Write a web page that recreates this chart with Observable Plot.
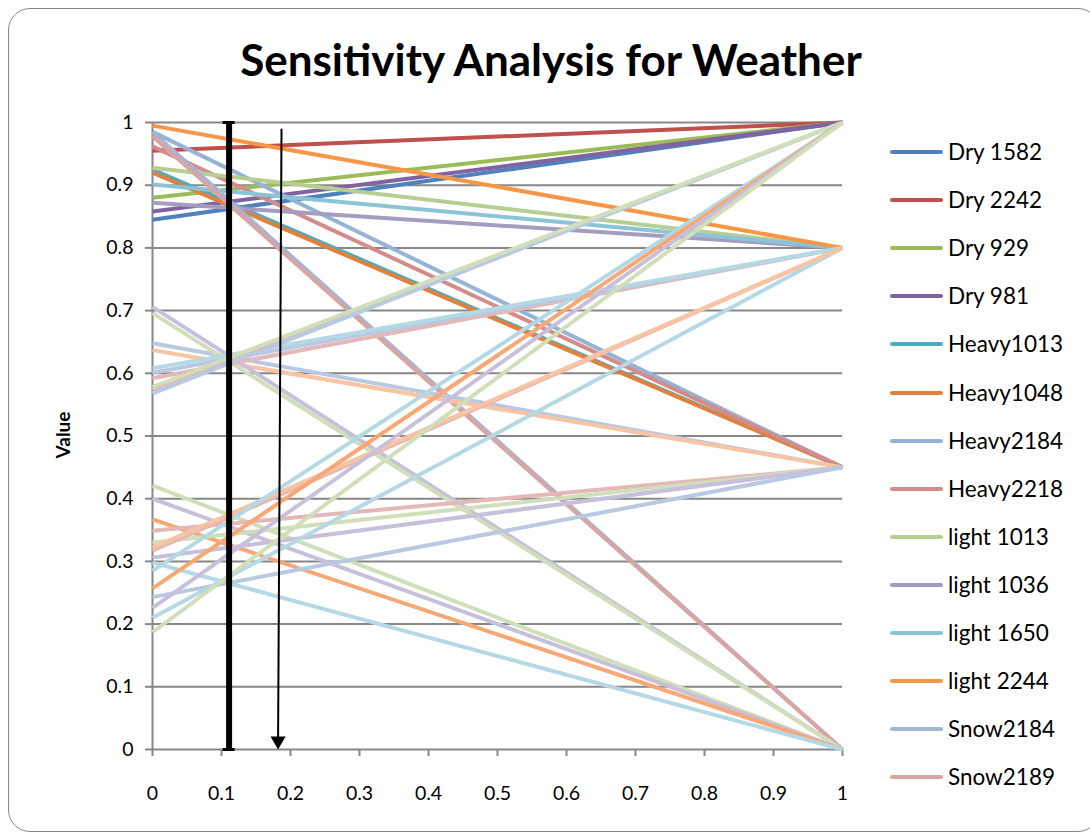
<!DOCTYPE html>
<html><head><meta charset="utf-8">
<script src="https://cdn.jsdelivr.net/npm/d3@7"></script>
<script src="https://cdn.jsdelivr.net/npm/@observablehq/plot@0.6"></script>
<style>
html,body{margin:0;padding:0;background:#fff;}
body{width:1090px;height:838px;position:relative;overflow:hidden;font-family:Lato,"Open Sans",sans-serif;color:#000;}
#frame{position:absolute;left:8px;top:8px;width:1092px;height:824px;border:1.5px solid #868686;border-radius:22px;box-sizing:border-box;}
#title{position:absolute;left:0;top:32px;width:1102px;text-align:center;font-weight:bold;font-size:44px;line-height:54px;}
#chart{position:absolute;left:0;top:100px;}
#ylabel{position:absolute;left:62px;top:435px;transform:translate(-50%,-50%) rotate(-90deg);font-weight:bold;font-size:19px;white-space:nowrap;}
#legend{position:absolute;left:890px;top:0;}
.item{position:absolute;left:0;height:30px;width:200px;}
.swatch{position:absolute;left:0;top:13px;width:53px;height:4px;border-radius:2px;}
.lab{position:absolute;left:58px;top:0;line-height:30px;font-size:22.5px;white-space:nowrap;}
</style></head>
<body>
<div id="frame"></div>
<div id="title">Sensitivity Analysis for Weather</div>
<div id="ylabel">Value</div>
<div id="chart"></div>
<div id="legend"></div>
<script>
// ---- data ----
const legendNames = ["Dry 1582","Dry 2242","Dry 929","Dry 981","Heavy1013","Heavy1048","Heavy2184","Heavy2218","light 1013","light 1036","light 1650","light 2244","Snow2184","Snow2189"];
const legendStart = [0.845,0.955,0.880,0.858,0.925,0.920,0.985,0.962,0.928,0.872,0.901,0.995,0.985,0.978];
const legendEnd   = [1,1,1,1,0.45,0.45,0.45,0.45,0.8,0.8,0.8,0.8,0,0];
// further series drawn in the chart but not listed in its legend
const extraNames = ["Series 15","Series 16","Series 17","Series 18","Series 19","Series 20","Series 21","Series 22","Series 23","Series 24","Series 25","Series 26","Series 27","Series 28","Series 29","Series 30","Series 31","Series 32","Series 33","Series 34","Series 35","Series 36","Series 37","Series 38","Series 39"];
const extraStart = [0.648,0.637,0.706,0.696,0.592,0.601,0.608,0.573,0.568,0.578,0.421,0.400,0.367,0.298,0.349,0.330,0.306,0.243,0.317,0.210,0.322,0.285,0.257,0.226,0.187];
const extraEnd   = [0.45,0.45,0,0,0.8,0.8,0.8,1,1,1,0,0,0,0,0.45,0.45,0.45,0.45,0.8,0.8,0.8,1,1,1,1];
const weightTicks = [0,0.1,0.2,0.3,0.4,0.5,0.6,0.7,0.8,0.9,1];
const valueTicks  = [0,0.1,0.2,0.3,0.4,0.5,0.6,0.7,0.8,0.9,1];
const barWeight = [0.111];
const arrowWeightTop = [0.187];
const arrowWeightBottom = [0.182];
const arrowValueTop = [0.99];

// ---- styles ----
const legendColors = ["#4F81BD","#C0504D","#9BBB59","#8064A2","#4BACC6","#E0823D","#95B3D7","#D38C8A","#B7CE93","#A69BC0","#8AC4D6","#F79646","#A5B6D5","#D9A5A4"];
const PB="#BAC9E2", PP="#E3B8B7", PG="#D1DEBA", PU="#C8C0DA", PA="#B5D9E4", PO="#F8C4A2", MO="#F8A874";
const extraColors = [PB,PO,PU,PG,PP,PB,PA,PP,PB,PG,PG,PU,MO,PA,PP,PG,PU,PB,PP,PA,PO,PA,MO,PU,PG];

const names = legendNames.concat(extraNames);
const starts = legendStart.concat(extraStart);
const ends = legendEnd.concat(extraEnd);
const colors = legendColors.concat(extraColors);
const rows = names.map((n,i)=>({name:n, x1:0, x2:1, y1:starts[i], y2:ends[i]}));

const fmt = d => String(+d.toFixed(1));
const gray = "#878787";

const chart = Plot.plot({
  width: 860, height: 710,
  marginLeft: 152, marginRight: 18, marginTop: 22, marginBottom: 61,
  style: {fontFamily: "Lato, 'Open Sans', sans-serif", fontSize: "19.5px", color: "#000", background: "transparent"},
  x: {domain: [0,1]},
  y: {domain: [0,1]},
  color: {domain: names, range: colors},
  marks: [
    Plot.ruleY(valueTicks, {stroke: gray, strokeWidth: 2}),
    Plot.ruleX([0], {stroke: gray, strokeWidth: 2}),
    Plot.axisY(valueTicks, {tickSize: 7, tickPadding: 12, stroke: gray, strokeWidth: 2, tickFormat: fmt, label: null, fill: "#000"}),
    Plot.axisX(weightTicks, {tickSize: 7, tickPadding: 30, stroke: gray, strokeWidth: 2, tickFormat: fmt, label: null, fill: "#000"}),
    Plot.link(rows, {x1: "x1", x2: "x2", y1: "y1", y2: "y2", stroke: "name", strokeWidth: 4}),
    Plot.ruleX(barWeight, {y1: 0, y2: 1, stroke: "#000", strokeWidth: 6}),
    Plot.ruleY([0, 1], {x1: barWeight[0] - 0.0087, x2: barWeight[0] + 0.0087, stroke: "#000", strokeWidth: 3}),
    Plot.link(arrowWeightTop, {x1: d => d, x2: arrowWeightBottom[0], y1: arrowValueTop[0], y2: 0.02, stroke: "#000", strokeWidth: 2}),
    Plot.dot(arrowWeightBottom, {x: d => d, y: 0, symbol: "triangle", r: 5.6, rotate: 180, fill: "#000", stroke: "none", dy: -8.7})
  ]
});
document.getElementById("chart").appendChild(chart);

const leg = document.getElementById("legend");
legendNames.forEach((n,i)=>{
  const it = document.createElement("div");
  it.className = "item";
  it.style.top = (152 + i*48.1 - 15) + "px";
  it.innerHTML = `<div class="swatch" style="background:${legendColors[i]}"></div><div class="lab">${n}</div>`;
  leg.appendChild(it);
});
</script>
</body></html>
